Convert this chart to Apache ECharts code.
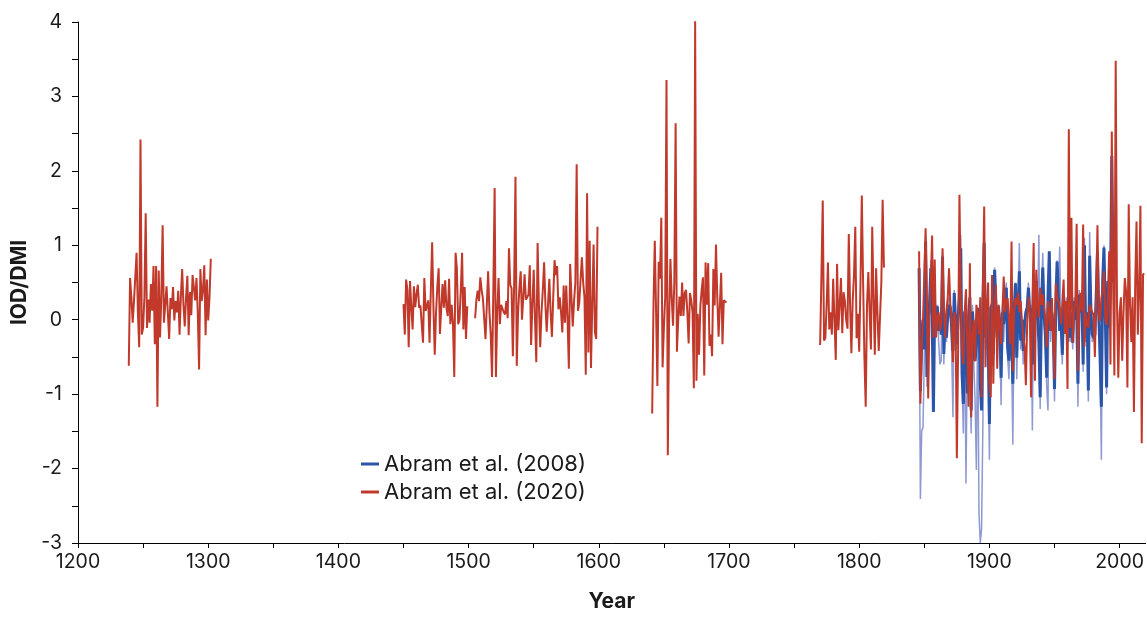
<!DOCTYPE html>
<html>
<head>
<meta charset="utf-8">
<script src="https://cdn.jsdelivr.net/npm/echarts@6/dist/echarts.min.js"></script>
<style>
html,body{margin:0;padding:0;background:#fff;overflow:hidden;}
#chart{width:1147px;height:617px;}
</style>
</head>
<body>
<div id="chart"></div>
<script>
// ---------- DATA ----------
const xTickLabels = [1200, 1300, 1400, 1500, 1600, 1700, 1800, 1900, 2000];
const yTickLabels = [-3, -2, -1, 0, 1, 2, 3, 4];

// Abram et al. (2020) — segments (start year, annual values)
const red2020Seg1Start = 1239;
const red2020Seg1 = [-0.62,0.56,0.3,-0.04,0.25,0.24,0.90,0.1,-0.37,2.42,-0.2,-0.11,0.3,1.43,-0.11,0.27,-0.04,0.48,0.12,0.72,-0.33,0.72,-1.17,0.66,-0.24,0.3,1.27,-0.04,0.2,0.45,0.1,-0.26,0.29,0.14,0.44,-0.01,0.25,0.1,0.39,-0.2,0.3,0.68,0.2,-0.09,0.3,0.59,-0.21,0.37,0.06,0.6,0.43,0.26,0.56,0.1,-0.67,0.68,0.25,0.4,0.73,-0.21,0.54,-0.01,0.3,0.82];

const red2020Seg2Start = 1450;
const red2020Seg2 = [0.21,-0.2,0.54,0.4,-0.37,0.52,0.16,-0.13,0.45,0.17,0.34,0.47,0.16,0.19,0.18,-0.31,0.56,0.12,0.18,0.26,-0.31,0.4,1.04,0.16,-0.47,0.1,0.45,0.69,-0.19,0.16,0.48,0.16,0.53,0.16,0.05,0.55,-0.06,0.2,-0.06,-0.77,0.90,0.69,-0.06,0.0,0.4,0.9,-0.13,0.44,-0.26,0.18,
null,null,null,null,null,
0.02,0.27,0.39,0.25,0.57,0.4,0.28,0.26,-0.26,0.2,0.65,0.1,-0.2,-0.77,0.4,1.77,-0.77,0.1,0.56,-0.06,0.2,0.21,0.1,0.07,0.25,0.02,0.96,0.47,0.42,-0.49,0.5,1.92,-0.62,0.1,0.42,0.65,0.0,0.3,0.61,0.27,0.3,0.34,0.73,-0.34,0.2,0.67,0.0,-0.57,1.03,0.2,-0.37,0.1,0.4,0.77,0.2,-0.16,0.2,0.55,0.1,-0.23,0.3,0.80,0.6,0.72,0.14,0.30,0.1,-0.17,0.46,-0.04,0.46,0.0,-0.66,0.75,0.3,-0.09,0.25,0.5,2.09,0.12,0.23,0.22,0.84,0.5,0.3,-0.74,1.70,-0.44,1.06,-0.65,0.2,1.01,-0.17,-0.26,1.25];

const red2020Seg3Start = 1641;
const red2020Seg3 = [-1.26,0.2,1.06,0.1,-0.89,0.78,0.55,1.37,-0.64,-0.1,0.3,3.22,-1.82,0.0,0.82,0.3,-0.08,0.5,2.64,-0.43,0.0,0.31,0.05,0.5,0.05,0.36,0.4,0.1,-0.32,0.36,0.26,0.1,-0.92,4.01,-0.82,0.08,-0.47,0.18,0.4,0.57,-0.75,0.77,0.2,0.76,-0.35,-0.2,-0.49,0.68,0.19,1.01,0.3,-0.23,0.2,0.63,-0.33,0.26,0.25,0.23];

const red2020Seg4Start = 1770;
const red2020Seg4 = [-0.34,0.6,1.60,-0.28,-0.25,0.2,0.77,-0.13,0.1,-0.2,0.55,0.0,-0.54,0.75,-0.14,0.2,0.56,-0.18,0.37,0.25,0.0,-0.12,1.15,0.2,-0.45,0.25,0.6,1.25,-0.25,0.08,-0.43,0.5,1.67,0.5,-0.5,-1.17,0.2,0.64,0.1,-0.4,1.25,0.3,-0.47,0.69,0.1,-0.42,-0.44,0.5,1.61,0.7];

const red2020Seg5Start = 1846;
const red2020Seg5 = [0.92,-1.13,-0.40,0.0,0.6,1.23,0.3,-1.06,0.05,0.5,1.13,-0.24,0.81,-0.24,0.03,0.1,-0.15,-0.05,0.96,0.2,-0.24,0.12,0.3,0.69,0.2,0.03,-0.57,0.1,0.0,-1.86,-0.37,1.68,0.3,-0.42,-0.6,0.1,0.41,-0.3,-1.17,0.76,-1.31,-0.2,0.0,-0.56,0.2,0.08,-0.2,0.3,-1.04,0.4,1.52,-0.64,0.2,0.5,
-0.86,-1.04,0.6,-0.86,0.1,0.47,-0.66,0.2,-0.06,-0.33,0.1,0.58,0.1,0.25,0.29,0.0,-0.33,1.05,-0.69,0.1,0.29,0.2,0.36,0.1,0.25,-0.02,-0.24,-0.35,-0.88,-0.06,0.3,0.12,-1.04,0.2,1.03,-0.82,0.67,0.2,0.03,0.43,0.2,0.34,0.16,0.0,-0.37,0.25,0.1,-0.15,0.29,-0.24,
-0.8,0.49,0.3,0.25,0.15,-0.06,0.2,0.54,-0.19,0.25,-0.93,2.56,-0.11,1.37,-0.31,0.1,0.22,1.29,-0.69,0.1,0.36,0.11,1.28,-0.36,0.1,-0.07,-0.11,0.2,0.15,0.1,0.07,-0.5,0.3,1.27,0.07,-0.02,0.29,0.4,0.65,0.02,-0.07,0.3,0.92,-0.6,2.53,0.52,-0.75,3.48,0.2,-0.78,
0.09,0.3,-0.55,0.1,0.56,0.38,-0.91,1.55,0.2,-0.3,0.3,-1.24,0.5,1.32,-0.2,0.4,1.53,-1.66,0.61,0.62];

// Abram et al. (2008) — dark blue
const blue2008Start = 1846;
const blue2008 = [0.69,-0.96,-0.3,0.0,-0.4,1.05,-0.77,0.0,0.2,0.69,0.1,-1.24,0.2,0.0,0.18,-0.15,0.0,-0.2,0.85,-0.46,0.0,-0.24,0.05,0.2,0.16,-0.1,-0.42,0.36,0.0,-0.33,0.02,0.3,0.96,-0.73,-1.13,0.11,-0.3,-0.99,0.02,0.3,-1.22,0.11,-0.2,-0.55,-0.33,0.16,0.0,-0.86,-1.22,0.2,1.03,-0.24,0.18,-0.2,
-1.4,0.16,0.2,-0.47,0.67,0.2,-0.24,0.18,-0.1,-0.78,0.1,-0.06,0.2,0.43,-0.37,-0.55,0.0,-0.15,-0.86,0.1,0.49,-0.51,0.1,0.65,-0.28,0.0,-0.42,-0.06,0.1,0.16,0.43,0.1,0.16,-0.6,0.2,0.0,0.52,0.07,-0.3,-1.04,0.2,0.7,0.07,-0.2,-0.78,0.3,0.92,-0.15,0.1,-0.11,
-0.93,0.2,0.78,0.3,-0.15,-0.02,-0.47,0.2,0.0,0.25,-0.29,0.1,-0.24,0.1,-0.31,0.25,0.0,0.2,-0.86,0.34,0.1,0.34,-0.6,1.0,-0.24,0.1,-0.95,0.86,0.1,-0.2,-0.24,-0.2,0.3,0.91,0.07,-0.5,-1.17,0.52,0.97,0.1,-0.91,0.52,-0.11,0.4,2.2,0.5];

// Abram et al. (2008) — alternate (light blue)
const lightBlueStart = 1846;
const lightBlue = [0.5,-2.41,-1.49,-1.45,-0.5,1.1,-0.9,0.0,0.3,0.8,0.0,-1.1,0.3,0.0,0.2,-0.3,-0.6,-0.55,0.9,-0.6,0.0,-0.3,0.1,0.3,0.2,-0.4,-1.31,0.4,-0.2,-0.4,0.1,0.4,1.14,-0.8,-1.53,0.1,-2.2,-0.5,0.1,-0.6,-1.53,0.2,-0.6,-1.1,-2.02,0.1,-2.6,-3.0,-2.8,-1.4,0.9,-0.4,0.2,-0.5,
-1.88,0.1,0.3,-0.6,0.7,0.1,-0.5,0.2,-0.3,-1.15,0.2,-0.3,0.3,0.5,-0.5,-0.8,0.0,-0.4,-1.68,0.1,0.5,-0.8,0.1,1.03,-0.4,-0.1,-0.6,-0.1,0.1,0.2,0.5,0.0,0.2,-1.49,0.3,-0.2,0.6,0.1,1.14,-1.2,0.3,0.9,0.0,-0.3,-0.9,-1.22,0.9,-0.3,0.2,-0.2,
-1.1,0.3,0.8,0.3,0.98,-0.1,-0.6,0.3,0.0,0.3,-0.4,0.2,-0.3,0.1,-0.4,0.3,0.0,0.3,-1.17,0.4,0.1,0.4,-0.7,1.1,-0.3,0.1,-1.1,1.18,0.1,-0.3,-0.3,-0.2,0.3,1.0,0.1,-0.6,-1.88,0.5,1.0,0.1,-1.0,0.5,-0.1,0.4,2.2,0.5];

// ---------- BUILD ----------
function seg(start, vals) {
  return vals.map((v, i) => [start + i, v === null ? '-' : v]);
}
function joinSegs(list) {
  let out = [];
  list.forEach((s, k) => {
    if (k > 0) out.push([s[0] - 1, '-']);
    out = out.concat(seg(s[0], s[1]));
  });
  return out;
}
const redData = joinSegs([
  [red2020Seg1Start, red2020Seg1],
  [red2020Seg2Start, red2020Seg2],
  [red2020Seg3Start, red2020Seg3],
  [red2020Seg4Start, red2020Seg4],
  [red2020Seg5Start, red2020Seg5]
]);
const blueData = seg(blue2008Start, blue2008);
const lightData = seg(lightBlueStart, lightBlue);

const xMinorTicks = [];
for (let y = 1200; y <= 2000; y += 50) xMinorTicks.push(y);
const yTicks = [];
for (let v = -3; v <= 4; v += 0.5) yTicks.push(v);

const RED = '#c0392b', BLUE = '#2a55a8', LIGHT = '#8e98d2';
const FONT = 'Inter';
const TXT = '#1a1a1a';

const chart = echarts.init(document.getElementById('chart'), null, {renderer: 'canvas', width: 1147, height: 617});
chart.setOption({
  animation: false,
  backgroundColor: '#ffffff',
  grid: {left: 78, width: 1069, top: 22, height: 532, containLabel: false},
  legend: {
    data: ['Abram et al. (2008)', 'Abram et al. (2020)'],
    orient: 'vertical',
    left: 356, top: 448,
    itemWidth: 18, itemHeight: 3, itemGap: 6,
    icon: 'rect',
    textStyle: {fontFamily: FONT, fontSize: 22, color: TXT}
  },
  xAxis: {
    type: 'value', min: 1200, max: 2020, interval: 100,
    name: 'Year', nameLocation: 'middle', nameGap: 48,
    nameTextStyle: {fontFamily: FONT, fontSize: 21, fontWeight: 'bold', color: TXT},
    axisLine: {show: true, onZero: false, lineStyle: {color: '#000', width: 1}},
    axisTick: {show: true, length: 5, lineStyle: {color: '#000'}, customValues: xMinorTicks},
    axisLabel: {fontFamily: FONT, fontSize: 19.5, color: TXT, margin: 9, customValues: xTickLabels,
      formatter: v => String(v)},
    splitLine: {show: false}
  },
  yAxis: {
    type: 'value', min: -3, max: 4, interval: 1,
    name: 'IOD/DMI', nameLocation: 'middle', nameGap: 46, nameRotate: 90,
    nameTextStyle: {fontFamily: FONT, fontSize: 21, fontWeight: 'bold', color: TXT},
    axisLine: {show: true, onZero: false, lineStyle: {color: '#000', width: 1}},
    axisTick: {show: true, length: 6, lineStyle: {color: '#000'}, customValues: yTicks},
    axisLabel: {fontFamily: FONT, fontSize: 19.5, color: TXT, margin: 16, customValues: yTickLabels,
      formatter: v => String(v)},
    splitLine: {show: false}
  },
  series: [
    {
      name: 'Abram et al. (2008) alt', type: 'line', data: lightData,
      showSymbol: false, symbol: 'none', z: 1,
      lineStyle: {color: LIGHT, width: 1.5}, itemStyle: {color: LIGHT}
    },
    {
      name: 'Abram et al. (2008)', type: 'line', data: blueData,
      showSymbol: false, symbol: 'none', z: 2,
      lineStyle: {color: BLUE, width: 3}, itemStyle: {color: BLUE}
    },
    {
      name: 'Abram et al. (2020)', type: 'line', data: redData,
      showSymbol: false, symbol: 'none', z: 3, connectNulls: false,
      lineStyle: {color: RED, width: 2}, itemStyle: {color: RED}
    }
  ]
});
</script>
</body>
</html>
